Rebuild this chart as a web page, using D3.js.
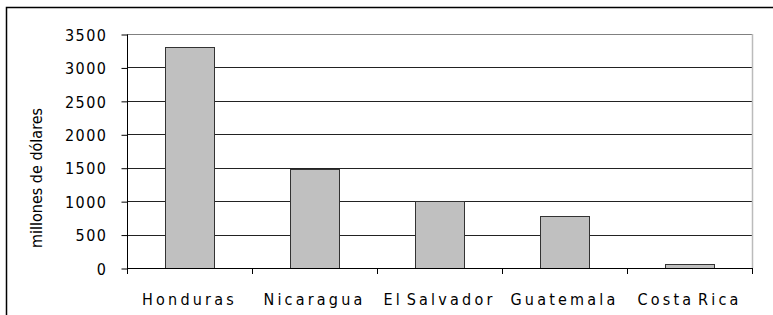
<!DOCTYPE html>
<html>
<head>
<meta charset="utf-8">
<script src="https://cdn.jsdelivr.net/npm/d3@7"></script>
<style>
body { margin:0; background:#fff; }
text { font-family: "Liberation Sans Narrow", "DejaVu Sans Condensed", "Liberation Sans", sans-serif; fill:#000; }
</style>
</head>
<body>
<div id="chart"></div>
<script>
// datos
var paises = ["Honduras", "Nicaragua", "El Salvador", "Guatemala", "Costa Rica"];
var valores = [3300, 1480, 1000, 780, 55];
var ticksY = [0, 500, 1000, 1500, 2000, 2500, 3000, 3500];

var w = 773, h = 315;
var m = {left:127, top:34, right:752, bottom:268};

var svg = d3.select("#chart").append("svg")
    .attr("width", w).attr("height", h);

// marco exterior
svg.append("rect")
    .attr("x", 6.5).attr("y", 7.5)
    .attr("width", 780).attr("height", 320)
    .attr("fill", "none").attr("stroke", "#000").attr("stroke-width", 1.5);

var x = d3.scaleBand().domain(paises)
    .range([m.left, m.right])
    .paddingInner(0.6).paddingOuter(0.3);

var y = d3.scaleLinear().domain([0, 3500]).range([m.bottom, m.top]);

// rejilla
svg.append("g").selectAll("line")
    .data(ticksY.filter(function(d){ return d > 0; }))
    .enter().append("line")
    .attr("x1", m.left).attr("x2", m.right)
    .attr("y1", function(d){ return Math.round(y(d)) + 0.5; })
    .attr("y2", function(d){ return Math.round(y(d)) + 0.5; })
    .attr("stroke", function(d){ return d == 3500 ? "#808080" : "#222"; })
    .attr("stroke-width", 1);

// borde derecho
svg.append("line")
    .attr("x1", m.right + 0.5).attr("x2", m.right + 0.5)
    .attr("y1", m.top).attr("y2", m.bottom)
    .attr("stroke", "#bbb").attr("stroke-width", 1.5);

// barras
svg.append("g").selectAll("rect")
    .data(valores)
    .enter().append("rect")
    .attr("x", function(d,i){ return Math.round(x(paises[i])) + 0.5; })
    .attr("y", function(d){ return Math.round(y(d)) + 0.5; })
    .attr("width", x.bandwidth() - 1)
    .attr("height", function(d){ return Math.round(y(0)) - Math.round(y(d)); })
    .attr("fill", "#c0c0c0")
    .attr("stroke", "#333").attr("stroke-width", 1);

// eje Y
var ejeY = svg.append("g")
    .attr("transform", "translate(" + (m.left + 0.5) + ",0.5)")
    .call(d3.axisLeft(y).tickValues(ticksY).tickSize(6).tickPadding(14).tickFormat(d3.format("d")));
ejeY.select(".domain").attr("stroke", "#000").attr("d", "M0," + Math.round(m.bottom) + "V" + m.top);
ejeY.selectAll(".tick line").attr("stroke", "#000");
ejeY.selectAll("text")
    .style("font-size", "16px")
    .style("letter-spacing", "1.5px")
    .attr("dy", "0.36em");

// eje X
var ejeX = svg.append("g")
    .attr("transform", "translate(0," + (m.bottom + 0.5) + ")")
    .call(d3.axisBottom(x).tickSize(0).tickPadding(0));
ejeX.select(".domain").remove();
ejeX.selectAll("text")
    .attr("y", 36)
    .attr("dy", 0)
    .style("font-size", "16px")
    .style("letter-spacing", "3.2px")
    .style("word-spacing", "-4px");

// marcas entre categorias
var bordes = paises.map(function(p){ return x(p) - x.step() * x.paddingOuter(); });
bordes.push(m.right);
svg.append("g").selectAll("line")
    .data(bordes)
    .enter().append("line")
    .attr("x1", function(d){ return Math.round(d) + 0.5; })
    .attr("x2", function(d){ return Math.round(d) + 0.5; })
    .attr("y1", m.bottom).attr("y2", m.bottom + 6)
    .attr("stroke", "#000");

// linea de base
svg.append("line")
    .attr("x1", m.left).attr("x2", m.right + 1)
    .attr("y1", m.bottom + 0.5).attr("y2", m.bottom + 0.5)
    .attr("stroke", "#000");

// titulo eje Y
svg.append("text")
    .attr("transform", "translate(42,178) rotate(-90)")
    .attr("text-anchor", "middle")
    .style("font-size", "16px")
    .text("millones de dólares");
</script>
</body>
</html>
